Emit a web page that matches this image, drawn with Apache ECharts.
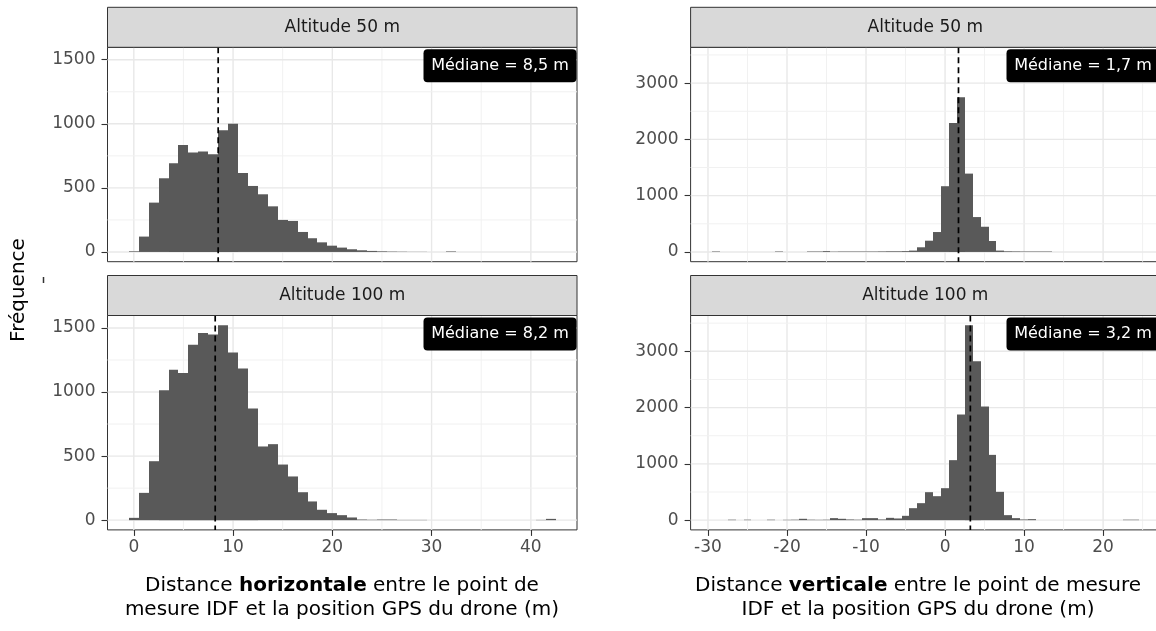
<!DOCTYPE html>
<html>
<head>
<meta charset="utf-8">
<script src="https://cdn.jsdelivr.net/npm/echarts@6/dist/echarts.min.js"></script>
<style>
  html, body { margin: 0; padding: 0; background: #ffffff; }
  #chart { width: 1156px; height: 631px; }
</style>
</head>
<body>
<div id="chart"></div>
<script>
// Histogram bins are 1 m wide, centred on whole metres.
const horizBins = [0, 1, 2, 3, 4, 5, 6, 7, 8, 9, 10, 11, 12, 13, 14, 15, 16, 17, 18, 19, 20,
  21, 22, 23, 24, 25, 26, 27, 28, 29, 30, 31, 32, 33, 34, 35, 36, 37, 38, 39, 40, 41, 42];
const horizCounts50 = [5, 120, 385, 575, 692, 835, 777, 783, 762, 949, 1001, 616, 515, 450, 356,
  250, 242, 156, 107, 75, 49, 34, 21, 13, 8, 5, 3, 2, 1, 1, 0, 0, 4, 0, 0, 0, 0, 0, 0, 0, 0, 0, 0];
const horizCounts100 = [18, 213, 460, 1014, 1173, 1149, 1368, 1461, 1448, 1521, 1308, 1183, 871,
  575, 593, 434, 341, 218, 146, 81, 55, 39, 21, 5, 3, 5, 5, 2, 2, 2, 0, 0, 0, 0, 0, 0, 0, 0, 0, 0, 0, 2, 10];

const vertBins = [-29, -28, -27, -26, -25, -24, -23, -22, -21, -20, -19, -18, -17, -16, -15, -14,
  -13, -12, -11, -10, -9, -8, -7, -6, -5, -4, -3, -2, -1, 0, 1, 2, 3, 4, 5, 6, 7, 8, 9, 10, 11, 12,
  13, 14, 15, 16, 17, 18, 19, 20, 21, 22, 23, 24];
const vertCounts50 = [8, 0, 0, 0, 0, 0, 0, 0, 8, 0, 0, 0, 8, 8, 15, 6, 8, 8, 8, 8, 8, 10, 12, 12,
  15, 24, 83, 200, 354, 1168, 2289, 2750, 1392, 620, 448, 195, 24, 12, 10, 8, 8, 8, 8,
  0, 0, 0, 0, 0, 0, 0, 0, 0, 0, 0];
const vertCounts100 = [0, 0, 8, 0, 8, 0, 0, 8, 0, 6, 8, 24, 8, 6, 8, 36, 24, 12, 8, 36, 36, 12, 41,
  30, 77, 213, 302, 497, 426, 568, 1066, 1877, 3463, 2824, 2019, 1160, 503, 89, 36, 12, 18,
  0, 0, 0, 0, 0, 0, 0, 0, 0, 0, 0, 8, 8];

const horizMedian50 = 8.5;
const horizMedian100 = 8.2;
const vertMedian50 = 1.7;
const vertMedian100 = 3.2;

const altitudeLabels = ['Altitude 50 m', 'Altitude 100 m'];

const horizTicks = [0, 10, 20, 30, 40];
const horizMinorTicks = [5, 15, 25, 35];
const vertTicks = [-30, -20, -10, 0, 10, 20];
const vertMinorTicks = [-25, -15, -5, 5, 15, 25];
const horizCountTicks = [0, 500, 1000, 1500];
const horizCountMinorTicks = [250, 750, 1250];
const vertCountTicks = [0, 1000, 2000, 3000];
const vertCountMinorTicks = [500, 1500, 2500, 3500];

// ---- layout (pixels) ----
const FONT = 'DejaVu Sans';
const colX = [107.5, 690.6];
const colW = [469.5, 469.4];
const rowY = [47.3, 315.5];
const plotH = 214.4;
const stripH = 40;

// ggplot-style 5 % padding on each side of a continuous range
function expandRange(lo, hi) {
  const pad = (hi - lo) * 0.05;
  return [lo - pad, hi + pad];
}

const horizX = expandRange(horizBins[0] - 0.5, horizBins[horizBins.length - 1] + 0.5);
const vertX = expandRange(vertBins[0] - 0.5, vertBins[vertBins.length - 1] + 0.5);
const horizY = expandRange(0, Math.max(...horizCounts50, ...horizCounts100));
const vertY = expandRange(0, Math.max(...vertCounts50, ...vertCounts100));

const panels = [
  { col: 0, row: 0, bins: horizBins, counts: horizCounts50, median: horizMedian50,
    xr: horizX, yr: horizY, xt: horizTicks, xm: horizMinorTicks, yt: horizCountTicks, ym: horizCountMinorTicks },
  { col: 0, row: 1, bins: horizBins, counts: horizCounts100, median: horizMedian100,
    xr: horizX, yr: horizY, xt: horizTicks, xm: horizMinorTicks, yt: horizCountTicks, ym: horizCountMinorTicks },
  { col: 1, row: 0, bins: vertBins, counts: vertCounts50, median: vertMedian50,
    xr: vertX, yr: vertY, xt: vertTicks, xm: vertMinorTicks, yt: vertCountTicks, ym: vertCountMinorTicks },
  { col: 1, row: 1, bins: vertBins, counts: vertCounts100, median: vertMedian100,
    xr: vertX, yr: vertY, xt: vertTicks, xm: vertMinorTicks, yt: vertCountTicks, ym: vertCountMinorTicks }
];

function renderGridLine(params, api) {
  const cs = params.coordSys;
  const v = api.value(0);
  const kind = api.value(1); // 0/1: vertical major/minor, 2/3: horizontal major/minor
  const minor = kind % 2 === 1;
  let shape;
  if (kind < 2) {
    const x = api.coord([v, 0])[0];
    shape = { x1: x, y1: cs.y, x2: x, y2: cs.y + cs.height };
  } else {
    const y = api.coord([0, v])[1];
    shape = { x1: cs.x, y1: y, x2: cs.x + cs.width, y2: y };
  }
  return {
    type: 'line', silent: true, shape: shape,
    style: { stroke: minor ? '#f1f1f1' : '#e8e8e8', lineWidth: minor ? 1 : 1.4 }
  };
}

function renderBin(params, api) {
  const x = api.value(0);
  const n = api.value(1);
  if (!n) return null;
  const p0 = api.coord([x - 0.5, 0]);
  const p1 = api.coord([x + 0.5, n]);
  // snap shared bin edges to whole pixels so neighbouring bars join without seams
  const x0 = Math.round(p0[0]), x1 = Math.round(p1[0]);
  return {
    type: 'rect', silent: true,
    shape: { x: x0, y: p1[1], width: x1 - x0, height: p0[1] - p1[1] },
    style: { fill: '#595959' }
  };
}

function renderMedian(params, api) {
  const cs = params.coordSys;
  const m = api.value(0);
  const x = api.coord([m, 0])[0];
  const text = 'Médiane = ' + m.toFixed(1).replace('.', ',') + ' m';
  const boxW = 153, boxH = 33;
  const right = cs.x + cs.width - 0.5;
  return {
    type: 'group', silent: true,
    children: [
      { type: 'line', shape: { x1: x, y1: cs.y, x2: x, y2: cs.y + cs.height },
        style: { stroke: '#000000', lineWidth: 1.7, lineDash: [6, 4] } },
      { type: 'rect', shape: { x: right - boxW, y: cs.y + 2, width: boxW, height: boxH, r: 4 },
        style: { fill: '#000000' } },
      { type: 'text',
        style: { text: text, x: right - boxW / 2, y: cs.y + 2 + boxH / 2, align: 'center',
          verticalAlign: 'middle', fill: '#ffffff', fontSize: 16, fontFamily: FONT } }
    ]
  };
}

const plainNumber = v => String(v);

const grids = [], xAxes = [], yAxes = [], series = [], graphics = [];

panels.forEach((p, i) => {
  const left = colX[p.col], top = rowY[p.row], width = colW[p.col];
  const bottomRow = p.row === 1;
  grids.push({
    left: left, top: top, width: width, height: plotH,
    show: true, backgroundColor: '#ffffff', borderColor: '#333333', borderWidth: 1,
    containLabel: false, outerBoundsMode: 'none'
  });
  xAxes.push({
    type: 'value', gridIndex: i, min: p.xr[0], max: p.xr[1],
    axisLine: { show: false, onZero: false },
    splitLine: { show: false },
    axisTick: { show: bottomRow, customValues: p.xt, length: 6, lineStyle: { color: '#333333', width: 1.1 } },
    axisLabel: { show: bottomRow, customValues: p.xt, formatter: plainNumber, margin: 9,
      fontSize: 17, fontFamily: FONT, color: '#4d4d4d' }
  });
  yAxes.push({
    type: 'value', gridIndex: i, min: p.yr[0], max: p.yr[1],
    axisLine: { show: false, onZero: false },
    splitLine: { show: false },
    axisTick: { show: true, customValues: p.yt, length: 6, lineStyle: { color: '#333333', width: 1.1 } },
    axisLabel: { show: true, customValues: p.yt, formatter: plainNumber, margin: 12,
      fontSize: 17, fontFamily: FONT, color: '#4d4d4d' }
  });

  const lines = [];
  p.xt.forEach(v => lines.push([v, 0]));
  p.xm.forEach(v => lines.push([v, 1]));
  p.yt.forEach(v => lines.push([v, 2]));
  p.ym.forEach(v => lines.push([v, 3]));
  series.push({
    type: 'custom', xAxisIndex: i, yAxisIndex: i, z: 1, silent: true,
    renderItem: renderGridLine, data: lines
  });
  series.push({
    type: 'custom', xAxisIndex: i, yAxisIndex: i, z: 2, silent: true,
    renderItem: renderBin, data: p.bins.map((b, k) => [b, p.counts[k]])
  });
  series.push({
    type: 'custom', xAxisIndex: i, yAxisIndex: i, z: 3, silent: true,
    renderItem: renderMedian, data: [[p.median, 0]]
  });

  // facet strip above each panel
  graphics.push({
    type: 'rect', z: 5,
    shape: { x: left, y: top - stripH, width: width, height: stripH },
    style: { fill: '#d9d9d9', stroke: '#333333', lineWidth: 1 }
  });
  graphics.push({
    type: 'text', z: 6, x: left + width / 2, y: top - stripH / 2,
    style: { text: altitudeLabels[p.row], align: 'center', verticalAlign: 'middle',
      fill: '#1a1a1a', fontSize: 17, fontFamily: FONT }
  });
});

// axis titles
graphics.push({
  type: 'text', x: 19, y: 290, rotation: Math.PI / 2,
  style: { text: 'Fréquence', align: 'center', verticalAlign: 'middle', fill: '#000000',
    fontSize: 20, fontFamily: FONT }
});
graphics.push({
  type: 'line', shape: { x1: 43.5, y1: 277, x2: 43.5, y2: 283 },
  style: { stroke: '#333333', lineWidth: 1.5 }
});

const titleRich = {
  n: { fontSize: 20, fontFamily: FONT, fill: '#000000', lineHeight: 24 },
  b: { fontSize: 20, fontFamily: FONT, fontWeight: 'bold', fill: '#000000', lineHeight: 24 }
};
graphics.push({
  type: 'text', x: 342, y: 598,
  style: {
    text: '{n|Distance }{b|horizontale}{n| entre le point de}\n{n|mesure IDF et la position GPS du drone (m)}',
    rich: titleRich, align: 'center', verticalAlign: 'middle', fontSize: 20, fontFamily: FONT,
    lineHeight: 24, fill: '#000000'
  }
});
graphics.push({
  type: 'text', x: 918, y: 598,
  style: {
    text: '{n|Distance }{b|verticale}{n| entre le point de mesure}\n{n|IDF et la position GPS du drone (m)}',
    rich: titleRich, align: 'center', verticalAlign: 'middle', fontSize: 20, fontFamily: FONT,
    lineHeight: 24, fill: '#000000'
  }
});

const chart = echarts.init(document.getElementById('chart'), null, { renderer: 'canvas' });
chart.setOption({
  animation: false,
  backgroundColor: '#ffffff',
  grid: grids,
  xAxis: xAxes,
  yAxis: yAxes,
  series: series,
  graphic: { elements: graphics }
});
</script>
</body>
</html>
